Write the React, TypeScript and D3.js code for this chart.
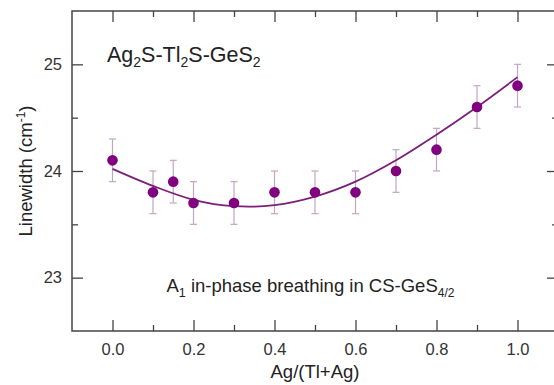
import React, { useEffect, useRef } from "react";
import * as d3 from "d3";

// measured points (Ag fraction vs linewidth)
const agFraction = [0.0, 0.1, 0.15, 0.2, 0.3, 0.4, 0.5, 0.6, 0.7, 0.8, 0.9, 1.0];
const linewidth = [24.1, 23.8, 23.9, 23.7, 23.7, 23.8, 23.8, 23.8, 24.0, 24.2, 24.6, 24.8];
const errorBar = [0.2, 0.2, 0.2, 0.2, 0.2, 0.2, 0.2, 0.2, 0.2, 0.2, 0.2, 0.2];

// fitted curve
const fitX = [0.0, 0.1, 0.2, 0.3, 0.4, 0.5, 0.6, 0.7, 0.8, 0.9, 1.0];
const fitY = [24.02, 23.86, 23.73, 23.67, 23.68, 23.76, 23.9, 24.1, 24.34, 24.6, 24.88];

const xMajor = [0.0, 0.2, 0.4, 0.6, 0.8, 1.0];
const xMinor = [0.1, 0.3, 0.5, 0.7, 0.9];
const yMajor = [23, 24, 25];
const yMinor = [23.5, 24.5];

function App() {
  const ref = useRef<SVGSVGElement>(null);

  useEffect(() => {
    const width = 554;
    const height = 385;
    const margin = { top: 11, left: 72, bottom: 54, right: -4 };
    const font = "'Liberation Sans', Arial, sans-serif";
    const axisColor = "#444";

    const svg = d3.select(ref.current);
    svg.selectAll("*").remove();

    const x = d3.scaleLinear()
      .domain([-0.1, 1.1])
      .range([margin.left, width - margin.right]);

    const y = d3.scaleLinear()
      .domain([22.5, 25.5])
      .range([height - margin.bottom, margin.top]);

    const styleAxis = (g: any) => {
      g.select(".domain").remove();
      g.selectAll("line").attr("stroke", axisColor).attr("stroke-width", 1.3);
      g.selectAll("text")
        .attr("fill", "#333")
        .style("font-family", font)
        .style("font-size", "16.5px");
    };

    // bottom, ticks pointing inwards
    svg.append("g")
      .attr("transform", `translate(0, ${y(22.5)})`)
      .call(d3.axisBottom(x).tickValues(xMajor).tickSize(-11).tickPadding(12).tickFormat(d3.format(".1f")))
      .call(styleAxis);
    svg.append("g")
      .attr("transform", `translate(0, ${y(22.5)})`)
      .call(d3.axisBottom(x).tickValues(xMinor).tickSize(-6).tickFormat(() => ""))
      .call(styleAxis);
    // top
    svg.append("g")
      .attr("transform", `translate(0, ${y(25.5)})`)
      .call(d3.axisTop(x).tickValues(xMajor).tickSize(-11).tickFormat(() => ""))
      .call(styleAxis);
    svg.append("g")
      .attr("transform", `translate(0, ${y(25.5)})`)
      .call(d3.axisTop(x).tickValues(xMinor).tickSize(-6).tickFormat(() => ""))
      .call(styleAxis);
    // left
    svg.append("g")
      .attr("transform", `translate(${x(-0.1)}, 0)`)
      .call(d3.axisLeft(y).tickValues(yMajor).tickSize(-11).tickPadding(10).tickFormat(d3.format("d")))
      .call(styleAxis);
    svg.append("g")
      .attr("transform", `translate(${x(-0.1)}, 0)`)
      .call(d3.axisLeft(y).tickValues(yMinor).tickSize(-6).tickFormat(() => ""))
      .call(styleAxis);
    // right
    svg.append("g")
      .attr("transform", `translate(${x(1.1)}, 0)`)
      .call(d3.axisRight(y).tickValues(yMajor).tickSize(-11).tickFormat(() => ""))
      .call(styleAxis);
    svg.append("g")
      .attr("transform", `translate(${x(1.1)}, 0)`)
      .call(d3.axisRight(y).tickValues(yMinor).tickSize(-6).tickFormat(() => ""))
      .call(styleAxis);

    // frame
    svg.append("rect")
      .attr("x", x(-0.1))
      .attr("y", y(25.5))
      .attr("width", x(1.1) - x(-0.1))
      .attr("height", y(22.5) - y(25.5))
      .attr("fill", "none")
      .attr("stroke", axisColor)
      .attr("stroke-width", 1.5);

    const points = agFraction.map((a, i) => ({ a, w: linewidth[i], e: errorBar[i] }));

    // error bars
    const eb = svg.append("g").attr("stroke", "#c2a6c2").attr("stroke-width", 1.2);
    eb.selectAll("line.v")
      .data(points)
      .enter()
      .append("line")
      .attr("x1", d => x(d.a))
      .attr("x2", d => x(d.a))
      .attr("y1", d => y(d.w - d.e))
      .attr("y2", d => y(d.w + d.e));
    eb.selectAll("line.top")
      .data(points)
      .enter()
      .append("line")
      .attr("x1", d => x(d.a) - 3.5)
      .attr("x2", d => x(d.a) + 3.5)
      .attr("y1", d => y(d.w + d.e))
      .attr("y2", d => y(d.w + d.e));
    eb.selectAll("line.bot")
      .data(points)
      .enter()
      .append("line")
      .attr("x1", d => x(d.a) - 3.5)
      .attr("x2", d => x(d.a) + 3.5)
      .attr("y1", d => y(d.w - d.e))
      .attr("y2", d => y(d.w - d.e));

    // fit curve
    const line = d3.line<number>()
      .x((d, i) => x(fitX[i]))
      .y(d => y(d))
      .curve(d3.curveCatmullRom.alpha(0.5));
    svg.append("path")
      .attr("d", line(fitY))
      .attr("fill", "none")
      .attr("stroke", "#7a1f7a")
      .attr("stroke-width", 1.8);

    // markers
    svg.append("g")
      .attr("fill", "#800080")
      .selectAll("circle")
      .data(points)
      .enter()
      .append("circle")
      .attr("cx", d => x(d.a))
      .attr("cy", d => y(d.w))
      .attr("r", 5.3);

    // labels
    const sub = (t: any, s: string, big: string, size: string) => {
      t.append("tspan").attr("dy", 5).style("font-size", size).text(s);
      t.append("tspan").attr("dy", -5).text(big);
    };
    const title = svg.append("text")
      .attr("x", 107)
      .attr("y", 61.5)
      .attr("fill", "#222")
      .style("font-family", font)
      .style("font-size", "21.5px");
    title.append("tspan").text("Ag");
    sub(title, "2", "S-Tl", "14px");
    sub(title, "2", "S-GeS", "14px");
    title.append("tspan").attr("dy", 5).style("font-size", "14px").text("2");

    const note = svg.append("text")
      .attr("x", 166.5)
      .attr("y", 291.5)
      .attr("fill", "#222")
      .style("font-family", font)
      .style("font-size", "18.5px");
    note.append("tspan").text("A");
    sub(note, "1", " in-phase breathing in CS-GeS", "12.5px");
    note.append("tspan").attr("dy", 5).style("font-size", "12px").text("4/2");

    svg.append("text")
      .attr("x", (x(-0.1) + x(1.1)) / 2)
      .attr("y", 378)
      .attr("text-anchor", "middle")
      .attr("fill", "#222")
      .style("font-family", font)
      .style("font-size", "18.5px")
      .text("Ag/(Tl+Ag)");

    const yTitle = svg.append("text")
      .attr("transform", `translate(31.5, ${(y(22.5) + y(25.5)) / 2}) rotate(-90)`)
      .attr("text-anchor", "middle")
      .attr("fill", "#222")
      .style("font-family", font)
      .style("font-size", "18.5px");
    yTitle.append("tspan").text("Linewidth (cm");
    yTitle.append("tspan").attr("dy", -7).style("font-size", "12px").text("-1");
    yTitle.append("tspan").attr("dy", 7).text(")");
  }, []);

  return (
    <svg
      ref={ref}
      width={554}
      height={385}
      style={{ position: "absolute", left: 0, top: 0, background: "#fff" }}
    />
  );
}

export default App;
